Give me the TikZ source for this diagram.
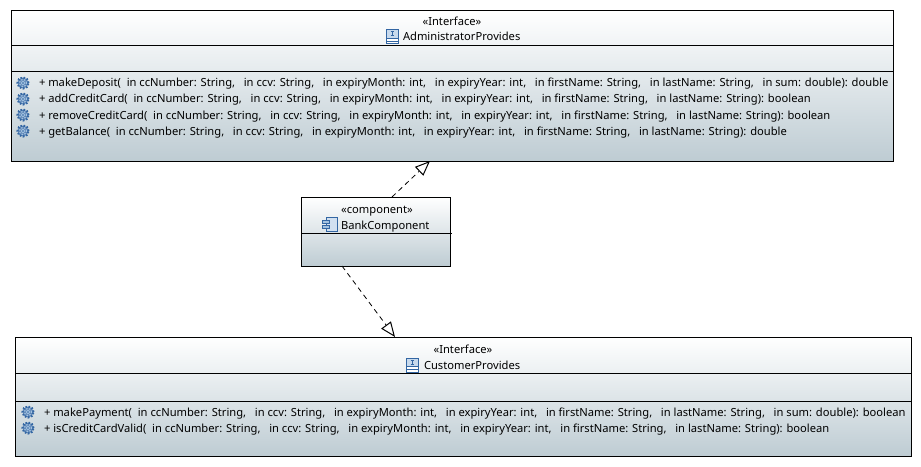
\documentclass[tikz,border=0pt]{standalone}
\usepackage{fontspec}
\setmainfont{Noto Sans}
\usetikzlibrary{arrows.meta}
\newlength{\du}
\setlength{\du}{0.75pt}
\definecolor{boxbottom}{rgb}{0.745, 0.800, 0.827}
\definecolor{iconblue}{rgb}{0.200, 0.400, 0.640}
\definecolor{iconlight}{rgb}{0.640, 0.760, 0.880}
\tikzset{
  umlbox/.style={draw=black,line width=1\du,top color=white,bottom color=boxbottom,minimum width=#1,inner sep=0pt,outer sep=0pt},
  umlline/.style={black,line width=1\du},
  umltext/.style={anchor=base,inner sep=0pt,outer sep=0pt,font=\fontsize{8.38pt}{10pt}\selectfont},
  optext/.style={umltext,anchor=base west},
  realizes/.style={black,line width=0.8\du,dashed,dash pattern=on 5\du off 4\du,-{Triangle[open,fill=white,length=11.25pt,width=9pt,line width=0.75pt]}},
  gearicon/.pic={
    \fill[iconblue!80] (0,0) circle (5.5\du);
    \draw[iconblue,line width=2\du,dash pattern=on 1.6\du off 1.6\du] (0,0) circle (5.6\du);
    \draw[iconlight,line width=1.2\du,dash pattern=on 1.5\du off 1.5\du] (0,0) circle (3.6\du);
    \fill[iconlight] (0,0) circle (2\du);
    \fill[iconblue] (0,0) circle (0.9\du);
  },
  ifaceicon/.pic={
    \draw[iconblue,fill=white,line width=1\du] (-6,-7) rectangle (6,7);
    \draw[iconblue,line width=1\du] (-6,1.5)--(6,1.5) (-6,4.5)--(6,4.5);
    \fill[iconlight!60] (-5.5,-6.5) rectangle (5.5,1);
    \draw[iconblue,line width=1\du] (0,-5)--(0,-1) (-1.5,-5)--(1.5,-5) (-1.5,-1)--(1.5,-1);
  },
  compicon/.pic={
    \draw[iconblue,fill=iconlight!50,line width=1\du] (-4,-7) rectangle (7,7);
    \draw[iconblue,fill=iconlight,line width=1\du] (-7.5,-4) rectangle (-1,-1);
    \draw[iconblue,fill=iconlight,line width=1\du] (-7.5,1) rectangle (-1,4);
  }
}
\begin{document}
\begin{tikzpicture}[x=1\du,y=-1\du]
\useasboundingbox (0,0) rectangle (921,467);
% interface on top
\node[umlbox=882\du,minimum height=150\du] (admin) at (452,86) {};
\draw[umlline] (11,46)--(893,46);
\draw[umlline] (11,72)--(893,72);
\node[umltext] (adminStereo) at (452,25.5) {«Interface»};
\pic at (392,37) {ifaceicon};
\node[umltext,anchor=base west] (adminName) at (403,41) {AdministratorProvides};
\pic at (23,83) {gearicon};
\pic at (23,99) {gearicon};
\pic at (23,115) {gearicon};
\pic at (23,131) {gearicon};
\node[optext] (adminOpA) at (39,87) {+ makeDeposit(\ \ in ccNumber: String,\ \ \ in ccv: String,\ \ \ in expiryMonth: int,\ \ \ in expiryYear: int,\ \ \ in firstName: String,\ \ \ in lastName: String,\ \ \ in sum: double): double};
\node[optext] (adminOpB) at (39,103) {+ addCreditCard(\ \ in ccNumber: String,\ \ \ in ccv: String,\ \ \ in expiryMonth: int,\ \ \ in expiryYear: int,\ \ \ in firstName: String,\ \ \ in lastName: String): boolean};
\node[optext] (adminOpC) at (39,119) {+ removeCreditCard(\ \ in ccNumber: String,\ \ \ in ccv: String,\ \ \ in expiryMonth: int,\ \ \ in expiryYear: int,\ \ \ in firstName: String,\ \ \ in lastName: String): boolean};
\node[optext] (adminOpD) at (39,135) {+ getBalance(\ \ in ccNumber: String,\ \ \ in ccv: String,\ \ \ in expiryMonth: int,\ \ \ in expiryYear: int,\ \ \ in firstName: String,\ \ \ in lastName: String): double};
% component
\node[umlbox=149\du,minimum height=69\du] (bank) at (376,231.5) {};
\draw[umlline] (302,233)--(452,233);
\node[umltext] (bankStereo) at (377,213.5) {«component»};
\pic at (330,224) {compicon};
\node[umltext,anchor=base west] (bankName) at (341,229) {BankComponent};
% interface below
\node[umlbox=896\du,minimum height=119\du] (customer) at (463,396.5) {};
\draw[umlline] (15,373)--(911,373);
\draw[umlline] (15,401)--(911,401);
\node[umltext] (customerStereo) at (463,353.5) {«Interface»};
\pic at (412,365) {ifaceicon};
\node[umltext,anchor=base west] (customerName) at (424,369) {CustomerProvides};
\pic at (28,412) {gearicon};
\pic at (28,428) {gearicon};
\node[optext] (customerOpA) at (44,416) {+ makePayment(\ \ in ccNumber: String,\ \ \ in ccv: String,\ \ \ in expiryMonth: int,\ \ \ in expiryYear: int,\ \ \ in firstName: String,\ \ \ in lastName: String,\ \ \ in sum: double): boolean};
\node[optext] (customerOpB) at (44,432) {+ isCreditCardValid(\ \ in ccNumber: String,\ \ \ in ccv: String,\ \ \ in expiryMonth: int,\ \ \ in expiryYear: int,\ \ \ in firstName: String,\ \ \ in lastName: String): boolean};
% connectors
\draw[realizes] ([xshift=16\du]bank.north) -- ([xshift=-22\du]admin.south);
\draw[realizes] ([xshift=-34\du]bank.south) -- ([xshift=-68\du]customer.north);
\end{tikzpicture}
\end{document}
